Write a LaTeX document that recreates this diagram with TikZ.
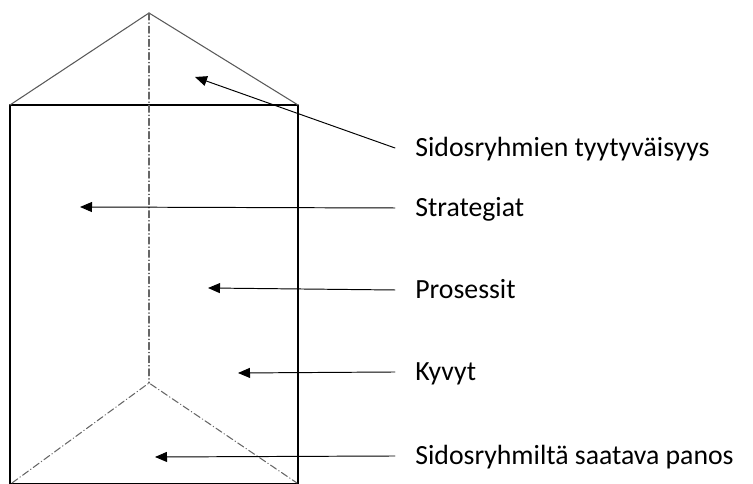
\documentclass[tikz,border=0pt]{standalone}
\usepackage{fontspec}
\setmainfont{Carlito}
\usetikzlibrary{arrows.meta}
\tikzset{
	selite/.style={anchor=west, inner xsep=0.4cm, inner ysep=0pt, text height=10.2pt, text depth=0pt, font=\fontsize{15.8}{19}\selectfont},
	nuoli/.style={-{Triangle[length=0.24cm,width=0.2cm]}, line width=0.55pt},
	piilo/.style={gray!80!black, line width=0.6pt, dash pattern=on 4pt off 1.6pt on 0.3pt off 1.6pt}
}
\begin{document}
\begin{tikzpicture}[scale=2, line join=round, line cap=round]
	\useasboundingbox (0,0) rectangle (7.53,4.84);
	% prisma
	\coordinate (A) at (1.49,4.71);
	\coordinate (K) at (1.49,1.01);
	\draw[line width=1.1pt] (0.1,0) rectangle (2.98,3.79);
	\draw[line width=0.6pt, gray!70!black] (0.1,3.79) -- (A) -- (2.98,3.79);
	\draw[piilo] (A) -- (K);
	\draw[piilo] (0.12,0.01) -- (K) -- (2.97,0.01);
	% selitteet ja nuolet
	\foreach \y/\kx/\ky/\n/\teksti in {3.36/1.95/4.07/s1/Sidosryhmien tyytyväisyys, 2.76/0.80/2.77/s2/Strategiat, 1.94/2.08/1.96/s3/Prosessit, 1.12/2.38/1.11/s4/Kyvyt, 0.28/1.55/0.27/s5/Sidosryhmiltä saatava panos} {
		\node[selite] (\n) at (3.95,\y) {\teksti};
		\coordinate (k\n) at (\kx,\ky);
		\draw[nuoli] (\n.west) -- (k\n);	}
\end{tikzpicture}
\end{document}
